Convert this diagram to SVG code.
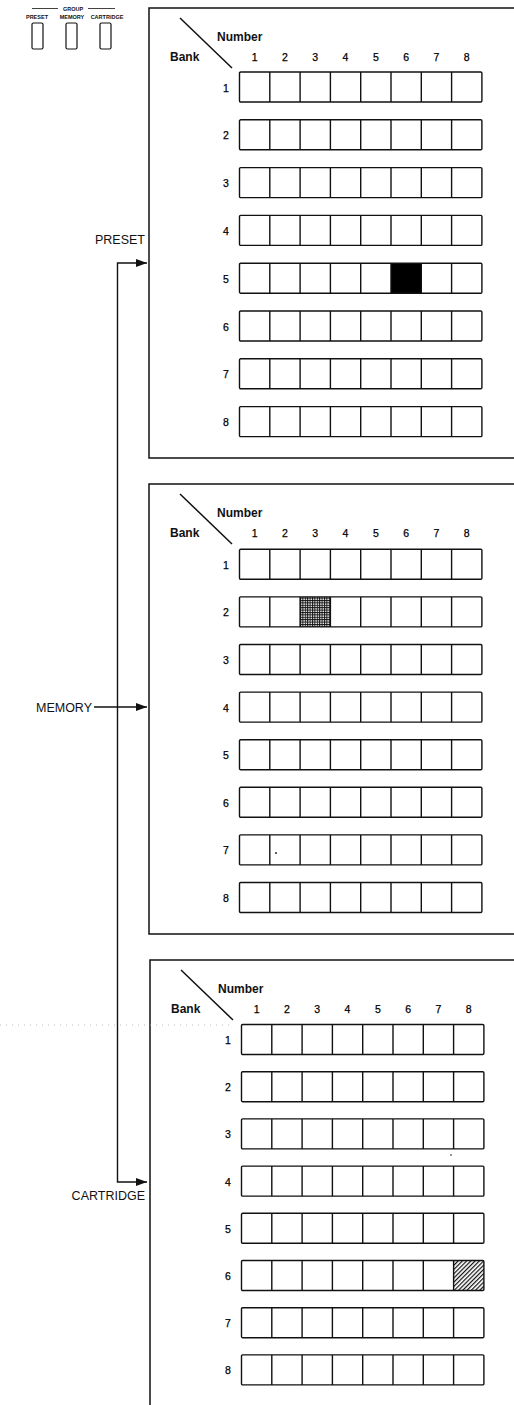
<svg xmlns="http://www.w3.org/2000/svg" xmlns:xlink="http://www.w3.org/1999/xlink" width="514" height="1405" viewBox="0 0 514 1405">
<style>
.frame{fill:none;stroke:#111;stroke-width:1.5}
.grid{fill:none;stroke:#111;stroke-width:1.4}
.diag{stroke:#111;stroke-width:1.5}
.conn{fill:none;stroke:#111;stroke-width:1.4}
.hd{font-family:"Liberation Sans",Arial,sans-serif;font-weight:bold;font-size:12px;fill:#111}
.num{font-family:"Liberation Sans",Arial,sans-serif;font-size:10.5px;fill:#000;text-anchor:middle;stroke:#000;stroke-width:0.25}
.lbl{font-family:"Liberation Sans",Arial,sans-serif;font-size:12.5px;fill:#111;text-anchor:end}
.tiny{font-family:"Liberation Sans",Arial,sans-serif;font-weight:bold;font-size:5.5px;fill:#111;text-anchor:middle}
.btn{fill:none;stroke:#111;stroke-width:1.2}
</style>
<defs>
<g id="row" class="grid"><rect x="0" y="0" width="242.4" height="30" rx="1.2"/><path d="M30.3 0v30M60.6 0v30M90.9 0v30M121.2 0v30M151.5 0v30M181.8 0v30M212.1 0v30"/></g>
<pattern id="stipple" width="2.4" height="2.4" patternUnits="userSpaceOnUse"><rect width="2.4" height="2.4" fill="#fff"/><path d="M0 0.5H2.4M0.5 0V2.4" stroke="#111" stroke-width="1"/></pattern>
<pattern id="hatch" width="3" height="3" patternUnits="userSpaceOnUse" patternTransform="rotate(45)"><rect width="3" height="3" fill="#fff"/><line x1="0.6" y1="0" x2="0.6" y2="3" stroke="#111" stroke-width="1.2"/></pattern>
<marker id="arr" viewBox="0 0 11 8" refX="11" refY="4" markerWidth="11" markerHeight="8" markerUnits="userSpaceOnUse" orient="auto-start-reverse"><path d="M0 0L11 4L0 8z" fill="#111"/></marker>
</defs>

<g id="group-buttons">
<path d="M32 8.5H58M88 8.5H115" stroke="#111" stroke-width="0.8"/>
<text class="tiny" x="73" y="10.5" font-size="5px">GROUP</text>
<text class="tiny" x="37" y="19">PRESET</text>
<text class="tiny" x="72" y="19">MEMORY</text>
<text class="tiny" x="107" y="19">CARTRIDGE</text>
<rect class="btn" x="32" y="23" width="11" height="26" rx="1.5"/>
<rect class="btn" x="66" y="23" width="11" height="26" rx="1.5"/>
<rect class="btn" x="100" y="23" width="11" height="26" rx="1.5"/>
</g>

<g id="panel-preset">
<path class="frame" d="M514 8H149V458H514"/>
<line class="diag" x1="180" y1="18" x2="232" y2="68"/>
<text class="hd" x="217" y="41">Number</text>
<text class="hd" x="170" y="61">Bank</text>
<g class="num"><text x="254.6" y="61">1</text><text x="284.9" y="61">2</text><text x="315.2" y="61">3</text><text x="345.5" y="61">4</text><text x="375.8" y="61">5</text><text x="406.1" y="61">6</text><text x="436.4" y="61">7</text><text x="466.7" y="61">8</text></g>
<rect x="391" y="263.2" width="30.3" height="30" fill="#000"/>
<g transform="translate(239.5 0)">
<use xlink:href="#row" y="72"/><use xlink:href="#row" y="119.8"/><use xlink:href="#row" y="167.6"/><use xlink:href="#row" y="215.4"/><use xlink:href="#row" y="263.2"/><use xlink:href="#row" y="311"/><use xlink:href="#row" y="358.8"/><use xlink:href="#row" y="406.6"/>
</g>
<g class="num"><text x="226" y="91.5">1</text><text x="226" y="139.3">2</text><text x="226" y="187.1">3</text><text x="226" y="234.9">4</text><text x="226" y="282.7">5</text><text x="226" y="330.5">6</text><text x="226" y="378.3">7</text><text x="226" y="426.1">8</text></g>
</g>

<g id="panel-memory">
<path class="frame" d="M514 484H149V934H514"/>
<line class="diag" x1="180" y1="494" x2="232" y2="544"/>
<text class="hd" x="217" y="517">Number</text>
<text class="hd" x="170" y="537">Bank</text>
<g class="num"><text x="254.6" y="537">1</text><text x="284.9" y="537">2</text><text x="315.2" y="537">3</text><text x="345.5" y="537">4</text><text x="375.8" y="537">5</text><text x="406.1" y="537">6</text><text x="436.4" y="537">7</text><text x="466.7" y="537">8</text></g>
<rect x="300.1" y="596.9" width="30.3" height="30" fill="url(#stipple)"/>
<g transform="translate(239.5 0)">
<use xlink:href="#row" y="549.3"/><use xlink:href="#row" y="596.9"/><use xlink:href="#row" y="644.5"/><use xlink:href="#row" y="692.1"/><use xlink:href="#row" y="739.7"/><use xlink:href="#row" y="787.3"/><use xlink:href="#row" y="834.9"/><use xlink:href="#row" y="882.5"/>
</g>
<g class="num"><text x="226" y="568.8">1</text><text x="226" y="616.4">2</text><text x="226" y="664">3</text><text x="226" y="711.6">4</text><text x="226" y="759.2">5</text><text x="226" y="806.8">6</text><text x="226" y="854.4">7</text><text x="226" y="902">8</text></g>
<circle cx="276" cy="853" r="0.9" fill="#111"/>
</g>

<g id="panel-cartridge">
<path class="frame" d="M514 960H150V1405"/>
<line class="diag" x1="181" y1="970" x2="233" y2="1020"/>
<text class="hd" x="218" y="993">Number</text>
<text class="hd" x="171" y="1013">Bank</text>
<g class="num"><text x="256.6" y="1013">1</text><text x="286.9" y="1013">2</text><text x="317.2" y="1013">3</text><text x="347.5" y="1013">4</text><text x="377.8" y="1013">5</text><text x="408.1" y="1013">6</text><text x="438.4" y="1013">7</text><text x="468.7" y="1013">8</text></g>
<rect x="453.6" y="1260.5" width="30.3" height="30" fill="url(#hatch)"/>
<g transform="translate(241.5 0)">
<use xlink:href="#row" y="1024.5"/><use xlink:href="#row" y="1071.7"/><use xlink:href="#row" y="1118.9"/><use xlink:href="#row" y="1166.1"/><use xlink:href="#row" y="1213.3"/><use xlink:href="#row" y="1260.5"/><use xlink:href="#row" y="1307.7"/><use xlink:href="#row" y="1354.9"/>
</g>
<g class="num"><text x="228" y="1044">1</text><text x="228" y="1091.2">2</text><text x="228" y="1138.4">3</text><text x="228" y="1185.6">4</text><text x="228" y="1232.8">5</text><text x="228" y="1280">6</text><text x="228" y="1327.2">7</text><text x="228" y="1374.4">8</text></g>
<path d="M0 1025H232" stroke="#aaa" stroke-width="0.8" stroke-dasharray="1 5" fill="none"/>
<circle cx="451" cy="1155" r="0.8" fill="#111"/>
</g>

<g id="connectors">
<path class="conn" d="M147 263H117.5V1182H147" marker-start="url(#arr)" marker-end="url(#arr)"/>
<path class="conn" d="M94 707H147" marker-end="url(#arr)"/>
</g>

<g id="labels">
<text class="lbl" x="145" y="244">PRESET</text>
<text class="lbl" x="92" y="711.5">MEMORY</text>
<text class="lbl" x="145" y="1200">CARTRIDGE</text>
</g>
</svg>
